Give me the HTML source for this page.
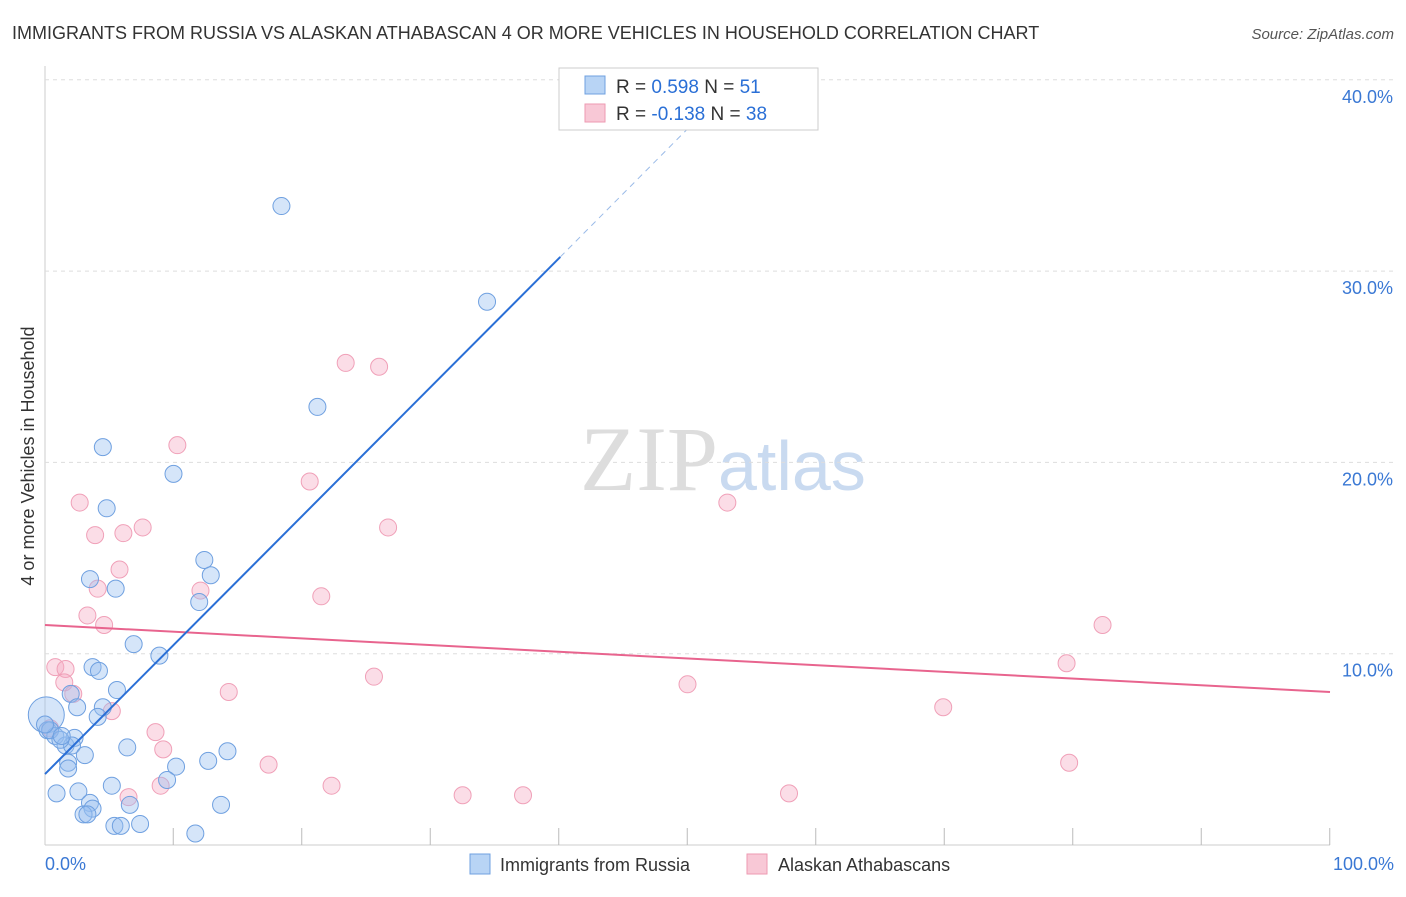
<!DOCTYPE html>
<html><head><meta charset="utf-8"><style>
body{margin:0;background:#fff;font-family:"Liberation Sans",sans-serif}
</style></head><body>
<svg id="chart" width="1406" height="892" xmlns="http://www.w3.org/2000/svg" font-family="Liberation Sans, sans-serif">
<text x="12" y="39" font-size="18" fill="#333">IMMIGRANTS FROM RUSSIA VS ALASKAN ATHABASCAN 4 OR MORE VEHICLES IN HOUSEHOLD CORRELATION CHART</text>
<text x="1394" y="39" font-size="15" fill="#555" text-anchor="end" font-style="italic">Source: ZipAtlas.com</text>
<text transform="translate(34,456) rotate(-90)" font-size="18" fill="#333" text-anchor="middle">4 or more Vehicles in Household</text>
<text x="718" y="490" font-size="92" fill="#ddd" text-anchor="end" font-family="Liberation Serif, serif">ZIP</text>
<text x="718" y="490" font-size="70" fill="#c9daf0">atlas</text>
<g id="grid"></g><g id="marks"></g>
<g>
<rect x="559" y="68" width="259" height="62" fill="#fff" stroke="#ccc"/>
<rect x="585" y="76" width="20" height="18" fill="#b8d4f5" stroke="#6fa0e0"/>
<text x="616" y="93" font-size="19" fill="#333">R = <tspan fill="#2a6fd6">0.598</tspan>   N = <tspan fill="#2a6fd6">51</tspan></text>
<rect x="585" y="104" width="20" height="18" fill="#f8c8d6" stroke="#ee9ab2"/>
<text x="616" y="120" font-size="19" fill="#333">R = <tspan fill="#2a6fd6">-0.138</tspan>   N = <tspan fill="#2a6fd6">38</tspan></text>
</g>
<g>
<rect x="470" y="854" width="20" height="20" fill="#b8d4f5" stroke="#6fa0e0"/>
<text x="500" y="871" font-size="18" fill="#333">Immigrants from Russia</text>
<rect x="747" y="854" width="20" height="20" fill="#f8c8d6" stroke="#ee9ab2"/>
<text x="778" y="871" font-size="18" fill="#333">Alaskan Athabascans</text>
</g>
</svg>
<script>
const yTicks=[10,20,30,40];
const xTickLabels=["0.0%","100.0%"];
const blueX=[18.4,34.4,21.2,4.5,10.0,4.8,12.4,12.9,3.5,5.5,12.0,6.9,8.9,3.7,4.2,5.6,2.0,2.5,4.5,4.1,0.1,0.2,0.8,1.6,2.3,2.1,3.1,6.4,1.8,1.8,12.7,14.2,10.2,9.5,5.2,0.9,2.6,3.5,3.7,6.6,3.0,3.3,13.7,5.4,5.9,7.4,11.7,0.4,1.2,0.0,1.3];
const blueY=[33.4,28.4,22.9,20.8,19.4,17.6,14.9,14.1,13.9,13.4,12.7,10.5,9.9,9.3,9.1,8.1,7.9,7.2,7.2,6.7,6.8,6.0,5.7,5.2,5.6,5.2,4.7,5.1,4.3,4.0,4.4,4.9,4.1,3.4,3.1,2.7,2.8,2.2,1.9,2.1,1.6,1.6,2.1,1.0,1.0,1.1,0.6,6.0,5.5,6.3,5.7];
const pinkX=[23.4,26.0,10.3,20.6,2.7,3.9,6.1,7.6,26.7,53.1,5.8,4.1,12.1,21.5,3.3,4.6,82.3,0.8,1.6,79.5,1.5,2.2,14.3,25.6,50.0,5.2,69.9,8.6,9.2,17.4,79.7,22.3,9.0,6.5,32.5,37.2,57.9,0.4];
const pinkY=[25.2,25.0,20.9,19.0,17.9,16.2,16.3,16.6,16.6,17.9,14.4,13.4,13.3,13.0,12.0,11.5,11.5,9.3,9.2,9.5,8.5,7.9,8.0,8.8,8.4,7.0,7.2,5.9,5.0,4.2,4.3,3.1,3.1,2.5,2.6,2.6,2.7,6.1];
const blueLine=[[0,3.71],[40.1,30.74]];
const blueDash=[[40.1,30.74],[53.8,40]];
const pinkLine=[[0,11.5],[100,8.0]];
const NS="http://www.w3.org/2000/svg";
const X=v=>45+v*12.85, Y=v=>845-v*19.13;
function mk(tag,attrs,parent){const e=document.createElementNS(NS,tag);for(const k in attrs)e.setAttribute(k,attrs[k]);parent.appendChild(e);return e;}
const grid=document.getElementById('grid'),marks=document.getElementById('marks');
mk('line',{x1:45,y1:66,x2:45,y2:845,stroke:'#ccc'},grid);
mk('line',{x1:45,y1:845,x2:1330,y2:845,stroke:'#ccc'},grid);
yTicks.forEach(t=>{
 const l=mk('line',{x1:45,y1:Y(t),x2:1394,y2:Y(t),stroke:'#ddd','stroke-dasharray':'4,4'},grid);
 
 
 const tx=mk('text',{x:1393,y:Y(t)+23,'font-size':18,fill:'#3a78d4','text-anchor':'end'},grid);
 tx.textContent=t.toFixed(1)+'%';
 
 
});
for(let i=1;i<=10;i++){const l=mk('line',{x1:X(i*10-0.02),y1:828,x2:X(i*10-0.02),y2:845,stroke:'#bbb'},grid);
 
 }
const xl0=mk('text',{x:45,y:870,'font-size':18,fill:'#3a78d4'},grid);xl0.textContent=xTickLabels[0];


const xl1=mk('text',{x:1394,y:870,'font-size':18,fill:'#3a78d4','text-anchor':'end'},grid);xl1.textContent=xTickLabels[1];


pinkX.forEach((v,i)=>{const c=mk('circle',{cx:X(v),cy:Y(pinkY[i]),r:8.5,fill:'rgba(245,170,195,0.4)',stroke:'#f0a0b8','stroke-width':1},marks);
 
 });
blueX.forEach((v,i)=>{const c=mk('circle',{cx:X(v),cy:Y(blueY[i]),r:(i==20?18:8.5),fill:'rgba(150,190,240,0.4)',stroke:'#6fa0e0','stroke-width':1},marks);
 
 });
function line(p,st,w,dash,name){const l=mk('line',{x1:X(p[0][0]),y1:Y(p[0][1]),x2:X(p[1][0]),y2:Y(p[1][1]),stroke:st,'stroke-width':w},marks);if(dash)l.setAttribute('stroke-dasharray',dash);
 
 }
line(pinkLine,'#e8648e',2,null,'pink-trend-line');
line(blueLine,'#2a6fd6',2,null,'blue-trend-line');
line(blueDash,'#9bbbe8',1,'6,5','blue-trend-extension');
</script>
</body></html>
